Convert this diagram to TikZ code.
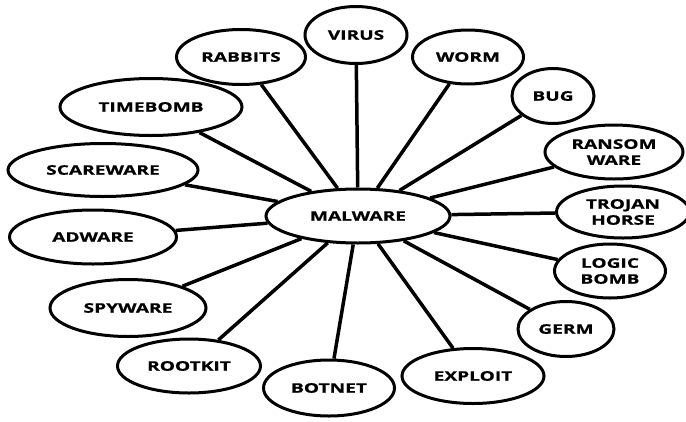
\documentclass[tikz,border=0pt]{standalone}
\usepackage{fontspec}
\newfontfamily\lblfont{Open Sans}[FakeStretch=1.45,FakeBold=0.6]
\usetikzlibrary{shapes.geometric}
\tikzset{
  blob/.style={ellipse, draw, line width=3pt, fill=white, inner sep=0pt, align=center,
    font=\lblfont\bfseries\fontsize{13.2}{16}\selectfont},
  sz/.style 2 args={minimum width=#1pt, minimum height=#2pt},
  link/.style={line width=3.5pt}
}
\begin{document}
\begin{tikzpicture}[x=1pt,y=-1pt]
\useasboundingbox (0,0) rectangle (686,421);
\node[blob,sz={184}{54}] (malware) at (358,216) {MALWARE};
\node[blob,sz={102}{57}] (virus) at (356,35) {VIRUS};
\node[blob,sz={129}{55}] (rabbits) at (241,57) {RABBITS};
\node[blob,sz={111}{54}] (worm) at (468,57) {WORM};
\node[blob,sz={82}{55}] (bug) at (553,96) {BUG};
\node[blob,sz={138}{54}] (ransom) at (614,152) {RANSOM\\WARE};
\node[blob,sz={133}{52}] (trojan) at (623,212) {TROJAN\\HORSE};
\node[blob,sz={111}{54}] (logic) at (610,271) {LOGIC\\BOMB};
\node[blob,sz={96}{55}] (germ) at (566,329) {GERM};
\node[blob,sz={142}{55}] (exploit) at (473,376) {EXPLOIT};
\node[blob,sz={131}{56}] (botnet) at (329,388) {BOTNET};
\node[blob,sz={143}{54}] (rootkit) at (189,366) {ROOTKIT};
\node[blob,sz={156}{57}] (spyware) at (128,308) {SPYWARE};
\node[blob,sz={167}{54}] (adware) at (93,237) {ADWARE};
\node[blob,sz={190}{53}] (scareware) at (103,170) {SCAREWARE};
\node[blob,sz={182}{57}] (timebomb) at (151,107) {TIMEBOMB};
\foreach \n in {virus,rabbits,worm,bug,ransom,trojan,logic,germ,exploit,botnet,rootkit,spyware,adware,scareware,timebomb}
  \draw[link] (\n) -- (malware);
\end{tikzpicture}
\end{document}
